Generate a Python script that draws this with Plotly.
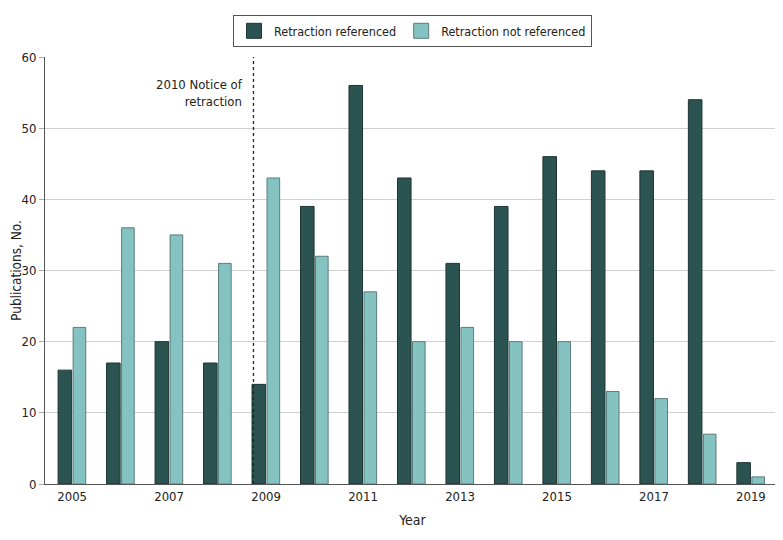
import plotly.graph_objects as go

years = list(range(2005, 2020))
referenced = [16, 17, 20, 17, 14, 39, 56, 43, 31, 39, 46, 44, 44, 54, 3]
not_referenced = [22, 36, 35, 31, 43, 32, 27, 20, 22, 20, 20, 13, 12, 7, 1]
tick_years = [2005, 2007, 2009, 2011, 2013, 2015, 2017, 2019]
notice_x = 2008.74

FONT = "DejaVu Sans Condensed, Liberation Sans Narrow, sans-serif"
DARK, DARK_LINE = "#2b5351", "#1d3433"
LIGHT, LIGHT_LINE = "#84c3c2", "#5c7c7b"

fig = go.Figure()
fig.add_trace(go.Bar(x=years, y=referenced, name="Retraction referenced",
                     width=0.28, offset=-0.29, showlegend=False,
                     marker=dict(color=DARK, line=dict(color=DARK_LINE, width=1))))
fig.add_trace(go.Bar(x=years, y=not_referenced, name="Retraction not referenced",
                     width=0.26, offset=0.02, showlegend=False,
                     marker=dict(color=LIGHT, line=dict(color=LIGHT_LINE, width=1))))
# legend entries with large square swatches
fig.add_trace(go.Scatter(x=[None], y=[None], mode="markers", name="Retraction referenced",
                         marker=dict(symbol="square", size=15, color=DARK,
                                     line=dict(color=DARK_LINE, width=1))))
fig.add_trace(go.Scatter(x=[None], y=[None], mode="markers", name="Retraction not referenced",
                         marker=dict(symbol="square", size=15, color=LIGHT,
                                     line=dict(color=LIGHT_LINE, width=1))))

fig.add_shape(type="line", x0=notice_x, x1=notice_x, y0=0, y1=60, xref="x", yref="y",
              line=dict(color="#222222", width=1.3, dash="3px,3px"))
fig.add_annotation(x=notice_x, y=60, xref="x", yref="y", xshift=-8, yshift=-18,
                   text="2010 Notice of<br>retraction", showarrow=False,
                   xanchor="right", yanchor="top", align="right",
                   font=dict(size=13, color="#222222", family=FONT))

# page body has an 8px margin, compensate in the figure margins
fig.update_layout(
    width=783, height=540,
    margin=dict(l=37, r=11, t=49, b=64, autoexpand=False),
    paper_bgcolor="white", plot_bgcolor="white",
    barmode="overlay",
    font=dict(family=FONT, size=13, color="#222222"),
    showlegend=True,
    legend=dict(orientation="h", x=0.5, xanchor="center", y=1.023, yanchor="bottom",
                bordercolor="#555555", borderwidth=1, font=dict(size=12.5),
                traceorder="normal", itemwidth=30),
    xaxis=dict(range=[2004.44, 2019.6], tickvals=tick_years, ticktext=[str(y) for y in tick_years],
               showgrid=False, showline=True, linecolor="#555555", linewidth=1,
               ticks="", title=dict(text="Year", standoff=12, font=dict(size=14)),
               zeroline=False, automargin=False),
    yaxis=dict(range=[0, 60], dtick=10, showgrid=True, gridcolor="#d0d0d0",
               showline=True, linecolor="#555555", linewidth=1,
               ticks="outside", ticklen=5, tickcolor="#aaaaaa",
               title=dict(text="Publications, No.", standoff=14, font=dict(size=13.5)),
               zeroline=False, automargin=False),
)

fig.write_html("out.html")
